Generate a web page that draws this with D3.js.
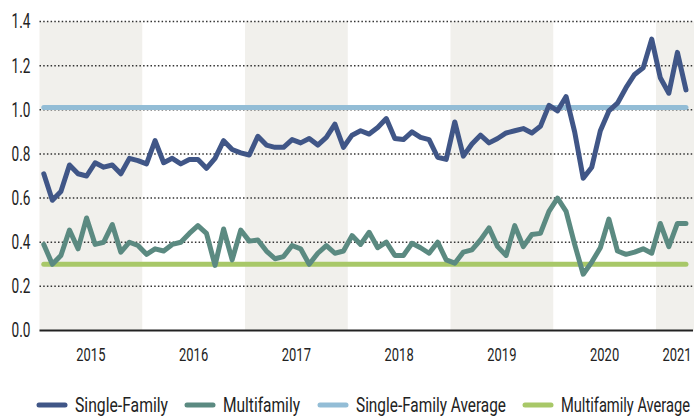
<!DOCTYPE html>
<html>
<head>
<meta charset="utf-8">
<script src="https://cdn.jsdelivr.net/npm/d3@7"></script>
<style>
  body { margin: 0; background: #fff; }
  svg text { font-family: Roboto, "Liberation Sans", sans-serif; fill: #222; }
</style>
</head>
<body>
<div id="chart"></div>
<script>
// monthly values, Jan 2015 - Apr 2021
const years = [2015, 2016, 2017, 2018, 2019, 2020, 2021];
const yTicks = [0, 0.2, 0.4, 0.6, 0.8, 1.0, 1.2, 1.4];
const singleFamily = [
  0.71, 0.59, 0.63, 0.75, 0.71, 0.70, 0.76, 0.74, 0.75, 0.71, 0.78, 0.77,
  0.755, 0.86, 0.76, 0.78, 0.755, 0.775, 0.775, 0.735, 0.78, 0.86, 0.82, 0.805,
  0.795, 0.88, 0.84, 0.83, 0.83, 0.865, 0.85, 0.87, 0.84, 0.875, 0.935, 0.83,
  0.885, 0.905, 0.89, 0.92, 0.96, 0.87, 0.865, 0.90, 0.875, 0.865, 0.785, 0.775,
  0.945, 0.79, 0.845, 0.885, 0.85, 0.87, 0.895, 0.905, 0.915, 0.895, 0.925, 1.02,
  0.995, 1.06, 0.90, 0.69, 0.74, 0.905, 0.995, 1.03, 1.10, 1.16, 1.19, 1.32,
  1.145, 1.075, 1.26, 1.09
];
const multifamily = [
  0.39, 0.30, 0.34, 0.455, 0.37, 0.51, 0.39, 0.40, 0.48, 0.355, 0.40, 0.385,
  0.345, 0.37, 0.36, 0.39, 0.40, 0.44, 0.475, 0.44, 0.295, 0.46, 0.32, 0.455,
  0.405, 0.41, 0.36, 0.325, 0.335, 0.385, 0.37, 0.30, 0.35, 0.385, 0.35, 0.36,
  0.43, 0.39, 0.445, 0.375, 0.40, 0.34, 0.34, 0.395, 0.375, 0.35, 0.40, 0.32,
  0.305, 0.355, 0.365, 0.41, 0.465, 0.38, 0.34, 0.475, 0.38, 0.435, 0.44, 0.54,
  0.60, 0.54, 0.39, 0.255, 0.31, 0.375, 0.505, 0.36, 0.345, 0.355, 0.37, 0.35,
  0.485, 0.38, 0.485, 0.485
];
const singleFamilyAvg = 1.01;
const multifamilyAvg = 0.30;

const legendLabels = ["Single-Family", "Multifamily", "Single-Family Average", "Multifamily Average"];
const legendColors = ["#405687", "#5b8a81", "#93bdd6", "#a8c868"];
// legend layout: left edge of swatch and squeezed text width
const legendX = [37, 185, 318, 523];
const legendTextW = [93, 77, 150, 129];

const width = 694, height = 417;
const plotLeft = 39.5, plotRight = 693, plotTop = 21.5, plotBottom = 330.5;
const squeeze = 0.68; // narrow the font to mimic a condensed face

const svg = d3.select("#chart").append("svg")
  .attr("width", width)
  .attr("height", height);

// x in months since Jan 2015
const x = d3.scaleLinear().domain([0, 72]).range([plotLeft, 656]);
const y = d3.scaleLinear().domain([0, 1.4]).range([plotBottom, plotTop]);

function condense(sel) {
  sel.each(function() {
    const w = this.getComputedTextLength();
    d3.select(this).attr("textLength", w * squeeze).attr("lengthAdjust", "spacingAndGlyphs");
  });
}

// alternating year bands
svg.append("g").attr("class", "bands")
  .selectAll("rect")
  .data(years.filter((d, i) => i % 2 === 0))
  .join("rect")
  .attr("x", d => x((d - 2015) * 12))
  .attr("width", d => Math.min(width, x((d - 2015) * 12 + 12)) - x((d - 2015) * 12))
  .attr("y", y(1.4))
  .attr("height", y(0) - y(1.4))
  .attr("fill", "#f1f0ec");

// dotted grid
svg.append("g").attr("class", "grid")
  .selectAll("line")
  .data(yTicks.filter(d => d > 0))
  .join("line")
  .attr("x1", plotLeft)
  .attr("x2", plotRight)
  .attr("y1", d => y(d))
  .attr("y2", d => y(d))
  .attr("stroke", "#333")
  .attr("stroke-width", 1.5)
  .attr("stroke-dasharray", "1.5,2.2");

// y axis labels
const yAxis = svg.append("g")
  .attr("transform", `translate(${plotLeft},0)`)
  .call(d3.axisLeft(y).tickValues(yTicks).tickFormat(d3.format(".1f")).tickSize(0).tickPadding(9));
yAxis.select(".domain").remove();
yAxis.selectAll("text")
  .attr("fill", "#222")
  .style("font-size", "20px")
  .style("font-family", "Roboto, sans-serif")
  .call(condense);

// baseline
svg.append("line")
  .attr("x1", plotLeft).attr("x2", plotRight)
  .attr("y1", plotBottom).attr("y2", plotBottom)
  .attr("stroke", "#222")
  .attr("stroke-width", 2);

// year labels centred on bands
svg.append("g").attr("class", "year-labels")
  .selectAll("text")
  .data(years)
  .join("text")
  .attr("x", d => d === 2021 ? 677 : x((d - 2015) * 12 + 6))
  .attr("y", 361)
  .attr("text-anchor", "middle")
  .style("font-size", "19px")
  .text(d => d)
  .call(condense);

const xm = i => x(i + 0.5);
const n = singleFamily.length;

// averages
[[singleFamilyAvg, "#93bdd6"], [multifamilyAvg, "#a8c868"]].forEach(([v, c]) => {
  svg.append("line")
    .attr("x1", xm(0)).attr("x2", xm(n - 1))
    .attr("y1", y(v)).attr("y2", y(v))
    .attr("stroke", c)
    .attr("stroke-width", 5)
    .attr("stroke-linecap", "round");
});

const line = d3.line().x((d, i) => xm(i)).y(d => y(d));
[[multifamily, "#5b8a81"], [singleFamily, "#405687"]].forEach(([data, c]) => {
  svg.append("path")
    .datum(data)
    .attr("d", line)
    .attr("fill", "none")
    .attr("stroke", c)
    .attr("stroke-width", 5)
    .attr("stroke-linejoin", "round")
    .attr("stroke-linecap", "round");
});

// legend
const legend = svg.append("g").attr("class", "legend")
  .selectAll("g")
  .data(legendLabels)
  .join("g")
  .attr("transform", (d, i) => `translate(${legendX[i]},405)`);
legend.append("line")
  .attr("x1", 2).attr("x2", 28)
  .attr("stroke", (d, i) => legendColors[i])
  .attr("stroke-width", 5)
  .attr("stroke-linecap", "round");
legend.append("text")
  .attr("x", 38)
  .attr("dy", "0.36em")
  .style("font-size", "20px")
  .attr("textLength", (d, i) => legendTextW[i])
  .attr("lengthAdjust", "spacingAndGlyphs")
  .text(d => d);
</script>
</body>
</html>
